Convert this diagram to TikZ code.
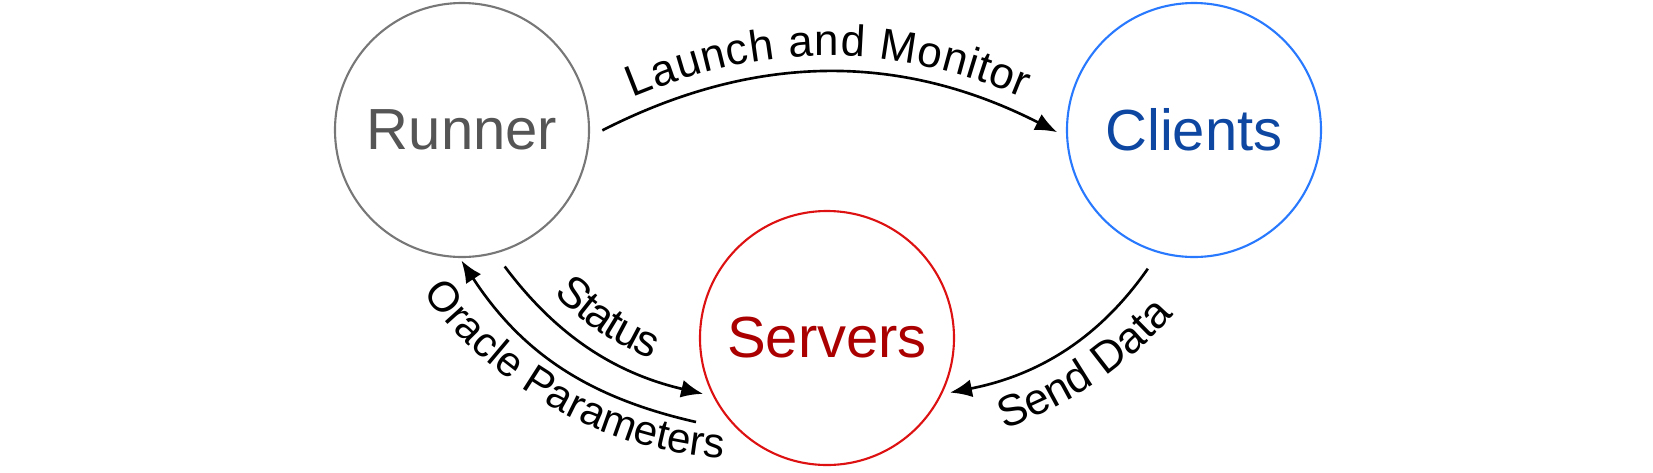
\documentclass[tikz,border=0pt]{standalone}
\usepackage{fontspec}
\setmainfont{Liberation Sans}
\usetikzlibrary{arrows.meta,decorations.text}
\definecolor{runnerline}{HTML}{777777}
\definecolor{runnertext}{HTML}{555555}
\definecolor{clientline}{HTML}{2979FF}
\definecolor{clienttext}{HTML}{0D47A1}
\definecolor{serverline}{HTML}{DD1111}
\definecolor{servertext}{HTML}{AA0000}
\newcommand{\edgefont}{\fontsize{12.5}{14}\selectfont}

\begin{document}
\begin{tikzpicture}[auto,
        node_style/.style={circle,line width=0.6pt,minimum size=2.54cm,inner sep=0pt,font=\fontsize{16.5}{18}\selectfont},
        edge_style/.style={draw=black,line width=0.75pt},
        edge_label/.style={postaction={decorate},decoration={text along path,text align=center,raise=#1}}]
        \useasboundingbox (0,0) rectangle (16.53,4.72);

        \node [node_style,draw=runnerline,text=runnertext](runner) at (4.62,3.42) {Runner};
        \node [node_style,draw=clientline,text=clienttext](clients) at (11.94,3.42) {Clients};
        \node [node_style,draw=serverline,text=servertext](servers) at (8.27,1.34) {Servers};
        \coordinate (oracle_end) at (6.96,0.50);

        \draw [edge_style,-{Latex[length=2.2mm,width=1.8mm]},shorten <=1.4mm,shorten >=1mm,
            edge_label=5pt,decoration={text={|\edgefont|Launch and Monitor}}]
            (runner.-3) to[bend left=27] (clients.183);
        \draw [edge_style,-{Latex[length=2.2mm,width=1.8mm]},shorten <=1.6mm,shorten >=1mm,
            edge_label=5pt,decoration={text={|\edgefont|Status}}]
            (runner.-75) to[bend right=20] (servers.207);
        \draw [edge_style,{Latex[length=2.2mm,width=1.8mm]}-,shorten <=0.3mm]
            (runner.-91) to[bend right=22] (oracle_end);
        \draw [edge_style,{Latex[length=2.2mm,width=1.8mm]}-,shorten <=0.8mm,shorten >=1.9mm]
            (servers.-26) to[bend right=22] (clients.254);

        % labels on the outer side, set on their own baseline arcs
        \path [edge_label=0pt,decoration={text={|\fontsize{12}{14}\selectfont|Oracle Parameters}}]
            (4.138,1.916) arc[start angle=214.2,end angle=268.2,radius=4.095];
        \path [edge_label=0pt,decoration={text={|\edgefont|Send Data}}]
            (9.837,0.364) arc[start angle=286,end angle=322,radius=3.98];
\end{tikzpicture}
\end{document}
